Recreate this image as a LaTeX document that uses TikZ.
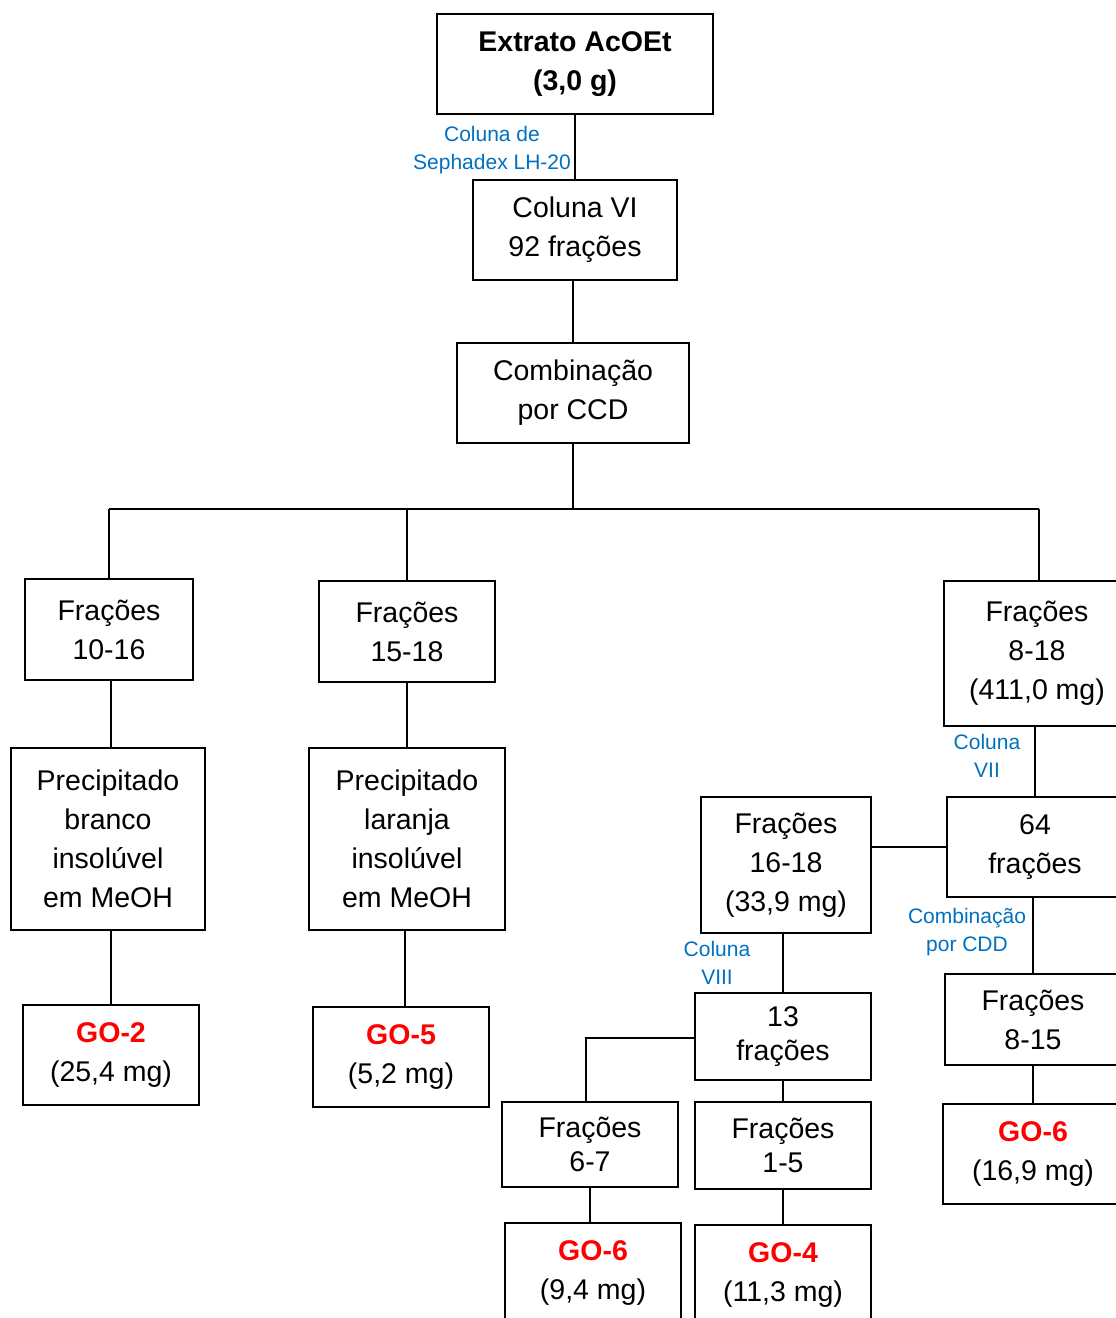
\documentclass[tikz,border=0pt]{standalone}
\usepackage{fontspec}
\setmainfont{Liberation Sans}
\definecolor{lblblue}{RGB}{0,112,192}
\definecolor{gored}{RGB}{255,0,0}
\begin{document}
\begin{tikzpicture}[x=1pt,y=-1pt,
  bx/.style={draw, line width=1.6pt, inner sep=0pt, align=center, font=\fontsize{28.5}{39}\selectfont},
  tight/.style={font=\fontsize{28.5}{34}\selectfont},
  wh/.style 2 args={minimum width=#1pt, minimum height=#2pt},
  ln/.style={line width=1.6pt},
  lbl/.style={text=lblblue, align=center, font=\fontsize{21}{28}\selectfont, inner sep=0pt}]
\useasboundingbox (0,0) rectangle (1116,1318);
\clip (0,0) rectangle (1116,1318);
\fill[white] (0,0) rectangle (1116,1318);

% top chain
\node[bx, wh={276}{100}] (ext) at (575,64) {\textbf{Extrato AcOEt}\\\textbf{(3,0 g)}};
\node[bx, wh={204}{100}] (col6) at (575,230) {Coluna VI\\92 frações};
\node[bx, wh={232}{100}] (comb) at (573,393) {Combinação\\por CCD};

% level 2
\node[bx, wh={168}{101}] (f1016) at (109,629.5) {Frações\\10-16};
\node[bx, wh={176}{101}] (f1518) at (407,631.5) {Frações\\15-18};
\node[bx, wh={186}{145}] (f818) at (1037,653.5) {Frações\\8-18\\(411,0 mg)};

% left branches
\node[bx, wh={194}{182}] (pb) at (108,839) {Precipitado\\branco\\insolúvel\\em MeOH};
\node[bx, wh={196}{182}] (pl) at (407,839) {Precipitado\\laranja\\insolúvel\\em MeOH};
\node[bx, wh={176}{100}] (go2) at (111,1055) {\textcolor{gored}{\textbf{GO-2}}\\(25,4 mg)};
\node[bx, wh={176}{100}] (go5) at (401,1057) {\textcolor{gored}{\textbf{GO-5}}\\(5,2 mg)};

% right branch
\node[bx, wh={176}{100}] (f64) at (1035,847) {64\\frações};
\node[bx, wh={170}{136}] (f1618) at (786,865) {Frações\\16-18\\(33,9 mg)};
\node[bx, wh={176}{91}] (f815) at (1033,1019.5) {Frações\\8-15};
\node[bx, wh={180}{100}] (go6r) at (1033,1154) {\textcolor{gored}{\textbf{GO-6}}\\(16,9 mg)};
\node[bx, tight, wh={176}{87}] (f13) at (783,1036.5) {13\\frações};
\node[bx, tight, wh={176}{85}] (f67) at (590,1144.5) {Frações\\6-7};
\node[bx, tight, wh={176}{87}] (f15) at (783,1145.5) {Frações\\1-5};
\node[bx, wh={176}{100}] (go6b) at (593,1273) {\textcolor{gored}{\textbf{GO-6}}\\(9,4 mg)};
\node[bx, wh={176}{100}] (go4) at (783,1275) {\textcolor{gored}{\textbf{GO-4}}\\(11,3 mg)};

% labels
\node[lbl] (lsep) at (492,150) {Coluna de\\Sephadex LH-20};
\node[lbl] (l7) at (987,756) {Coluna\\VII};
\node[lbl] (lcdd) at (967,932) {Combinação\\por CDD};
\node[lbl] (l8) at (717,963) {Coluna\\VIII};

% connectors
\coordinate (busL) at (109,509);
\coordinate (busR) at (1039,509);
\coordinate (j67) at (586,1038);
\draw[ln] (ext.south) -- (col6.north);
\draw[ln] (comb.north |- col6.south) -- (comb.north);
\draw[ln] (comb.south) -- (comb.south |- busL);
\draw[ln] (busL) -- (busR);
\draw[ln] (busL) -- (f1016.north);
\draw[ln] (f1518.north |- busL) -- (f1518.north);
\draw[ln] (busR) -- (busR |- f818.north);
\draw[ln] (f1016.south -| 111,0) -- (pb.north -| 111,0);
\draw[ln] (f1518.south) -- (pl.north);
\draw[ln] (pb.south -| go2.north) -- (go2.north);
\draw[ln] (pl.south -| 405,0) -- (go5.north -| 405,0);
\draw[ln] (f818.south -| f64.north) -- (f64.north);
\draw[ln] (f64.west) -- (f64.west -| f1618.east);
\draw[ln] (f64.south -| f815.north) -- (f815.north);
\draw[ln] (f815.south -| go6r.north) -- (go6r.north);
\draw[ln] (f1618.south -| f13.north) -- (f13.north);
\draw[ln] (f13.west |- j67) -- (j67) -- (j67 |- f67.north);
\draw[ln] (f13.south) -- (f15.north);
\draw[ln] (f67.south) -- (f67.south |- go6b.north);
\draw[ln] (f15.south) -- (go4.north);
\end{tikzpicture}
\end{document}
